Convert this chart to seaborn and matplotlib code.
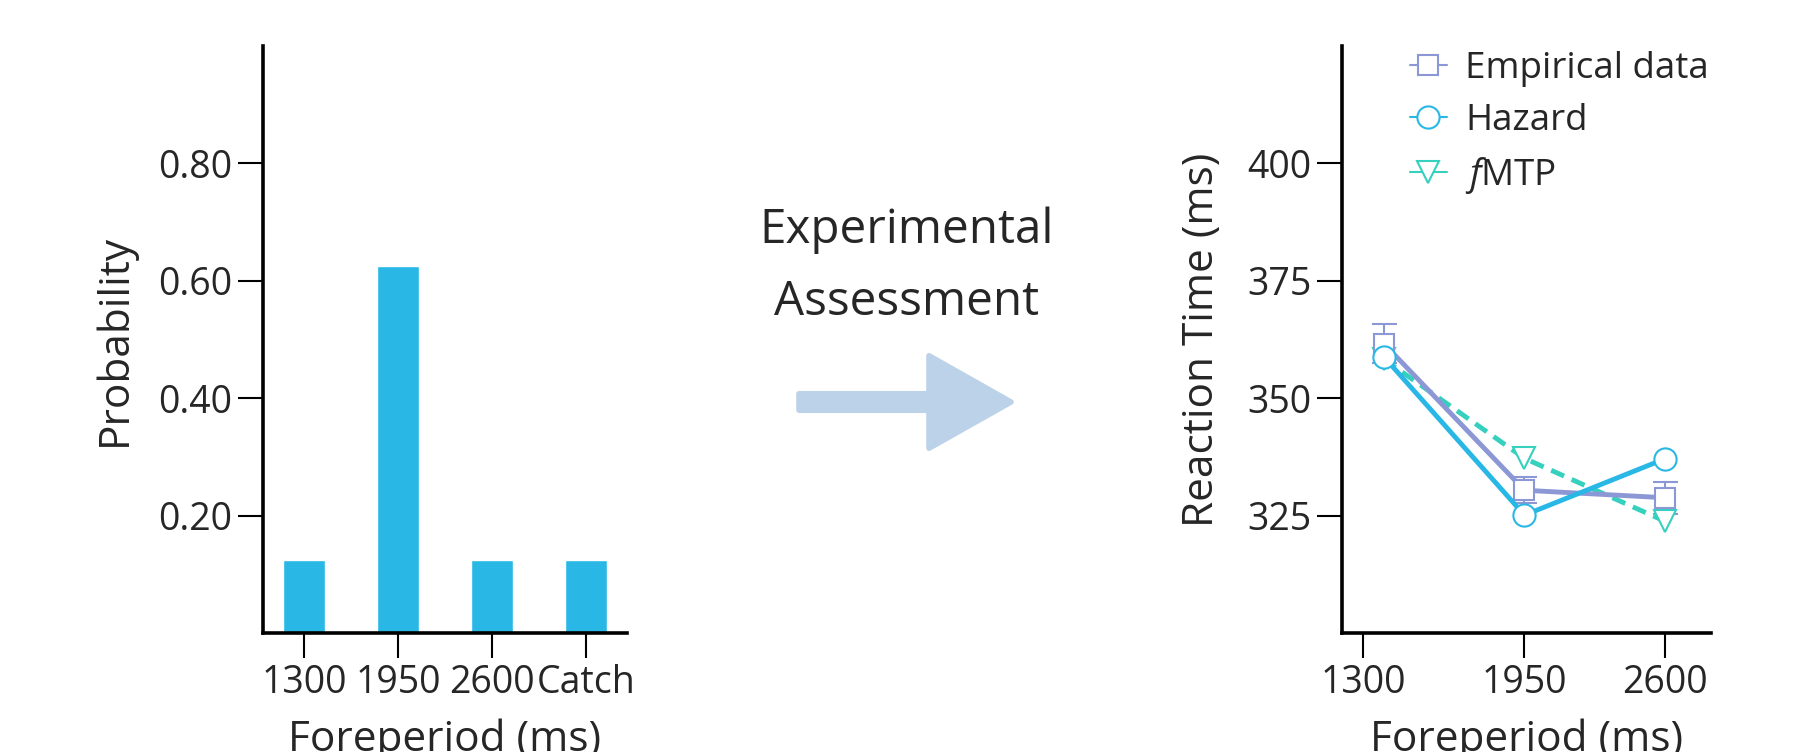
import numpy as np
import pandas as pd
import matplotlib
matplotlib.use("Agg")
import matplotlib.pyplot as plt
import seaborn as sns
from matplotlib.lines import Line2D
from matplotlib.patches import FancyArrow
from matplotlib.legend_handler import HandlerLine2D, HandlerTuple

# 1) DATOS

# panel izquierdo: distribucion de foreperiodos
condiciones = ["1300", "1950", "2600", "Catch"]
probabilidad = [0.125, 0.625, 0.125, 0.125]
ticks_prob = [0.20, 0.40, 0.60, 0.80]

# panel derecho: tiempos de reaccion
foreperiodo = [1300, 1950, 2600]
rt_empirico = [361.6, 330.4, 328.8]
rt_error = [4.2, 2.8, 3.4]
rt_hazard = [358.8, 325.1, 337.1]
rt_fmtp = [358.3, 337.2, 323.8]
ticks_rt = [325, 350, 375, 400]
ticks_fp = [1203, 1950, 2600]
etiquetas_fp = ["1300", "1950", "2600"]

# colores
AZUL = "#29B8E5"
LILA = "#8C97D5"
VERDE = "#35D0BE"
FLECHA = "#BCD2E8"

# 2) ESTILO
sns.set_style("ticks")
plt.rcParams["font.family"] = ["Open Sans", "DejaVu Sans"]
plt.rcParams["mathtext.fontset"] = "custom"
plt.rcParams["mathtext.rm"] = "Open Sans"
plt.rcParams["mathtext.it"] = "Open Sans:italic"

W, H = 1815, 752
fig = plt.figure(figsize=(W / 100, H / 100), dpi=100)


def ejes_px(x0, y0, x1, y1):
    # ejes a partir de pixeles (origen arriba a la izquierda)
    return fig.add_axes([x0 / W, 1 - y1 / H, (x1 - x0) / W, (y1 - y0) / H])


ax1 = ejes_px(263, 46, 627, 633)
ax2 = ejes_px(1342, 46, 1711, 633)

for ax in (ax1, ax2):
    ax.tick_params(labelsize=27, length=18, width=1.5, pad=4, direction="out", color="black")
    for s in ("left", "bottom"):
        ax.spines[s].set_linewidth(2.6)
        ax.spines[s].set_color("black")
    sns.despine(ax=ax)

# 3) PANEL IZQUIERDO - barras
sns.barplot(x=condiciones, y=probabilidad, color=AZUL, saturation=1, width=0.45, ax=ax1)
ax1.set_xlim(-0.44, 3.44)
ax1.set_ylim(0, 1.0)
ax1.set_yticks(ticks_prob)
ax1.set_yticklabels([f"{t:.2f}" for t in ticks_prob])
ax1.set_xlabel("Foreperiod (ms)", fontsize=30.5, labelpad=12)
ax1.set_ylabel("Probability", fontsize=30.5, labelpad=16)

# 4) PANEL DERECHO - lineas
ax2.errorbar(foreperiodo, rt_empirico, yerr=rt_error, fmt="none", ecolor=LILA,
             elinewidth=1.5, capsize=9, capthick=1.5, zorder=2)
sns.lineplot(x=foreperiodo, y=rt_fmtp, color=VERDE, lw=3.5, linestyle=(0, (2.9, 1.7)),
             marker="v", markersize=16, markerfacecolor="white", markeredgecolor=VERDE,
             markeredgewidth=1.5, ax=ax2, zorder=2.5)
sns.lineplot(x=foreperiodo, y=rt_empirico, color=LILA, lw=3.5,
             marker="s", markersize=15, markerfacecolor="white", markeredgecolor=LILA,
             markeredgewidth=1.5, ax=ax2, zorder=3)
sns.lineplot(x=foreperiodo, y=rt_hazard, color=AZUL, lw=3.5,
             marker="o", markersize=16, markerfacecolor="white", markeredgecolor=AZUL,
             markeredgewidth=1.5, ax=ax2, zorder=4)

ax2.set_xlim(1106, 2813)
ax2.set_ylim(300, 425)
ax2.set_xticks(ticks_fp)
ax2.set_xticklabels(etiquetas_fp)
ax2.set_yticks(ticks_rt)
ax2.set_xlabel("Foreperiod (ms)", fontsize=30.5, labelpad=12)
ax2.set_ylabel("Reaction Time (ms)", fontsize=30.5, labelpad=17.5)

# leyenda con marcadores finos
h_emp = Line2D([], [], color=LILA, lw=1.5, marker="s", ms=15, mfc="white", mec=LILA, mew=1.5)
h_caps = Line2D([], [], color=LILA, lw=0, marker="|", ms=10, mew=1.5)
h_haz = Line2D([], [], color=AZUL, lw=1.5, marker="o", ms=16, mfc="white", mec=AZUL, mew=1.5)
h_fmtp = Line2D([], [], color=VERDE, lw=1.5, marker="v", ms=16, mfc="white", mec=VERDE, mew=1.5)
ax2.legend([(h_caps, h_emp), h_haz, h_fmtp],
           ["Empirical data", "Hazard", r"$\mathit{f}$MTP"],
           handler_map={tuple: HandlerTuple(ndivide=1, pad=0),
                        h_caps: HandlerLine2D(numpoints=2)},
           loc="upper left", bbox_to_anchor=(0.184, 0.991), frameon=False,
           fontsize=26.5, handlelength=1.0, handletextpad=0.5, labelspacing=0.43,
           borderpad=0, borderaxespad=0)

# 5) TEXTO Y FLECHA CENTRAL
axo = fig.add_axes([0, 0, 1, 1], zorder=-1)
axo.set_xlim(0, W)
axo.set_ylim(H, 0)
axo.axis("off")
axo.text(907, 243, "Experimental", ha="center", va="baseline", fontsize=34.3)
axo.text(907, 315, "Assessment", ha="center", va="baseline", fontsize=34.3)
axo.add_patch(FancyArrow(799, 402, 212, 0, width=16.5, head_width=92.5, head_length=82,
                         length_includes_head=True, facecolor=FLECHA, edgecolor=FLECHA,
                         lw=4, joinstyle="round"))

fig.savefig("out.png", dpi=100)
